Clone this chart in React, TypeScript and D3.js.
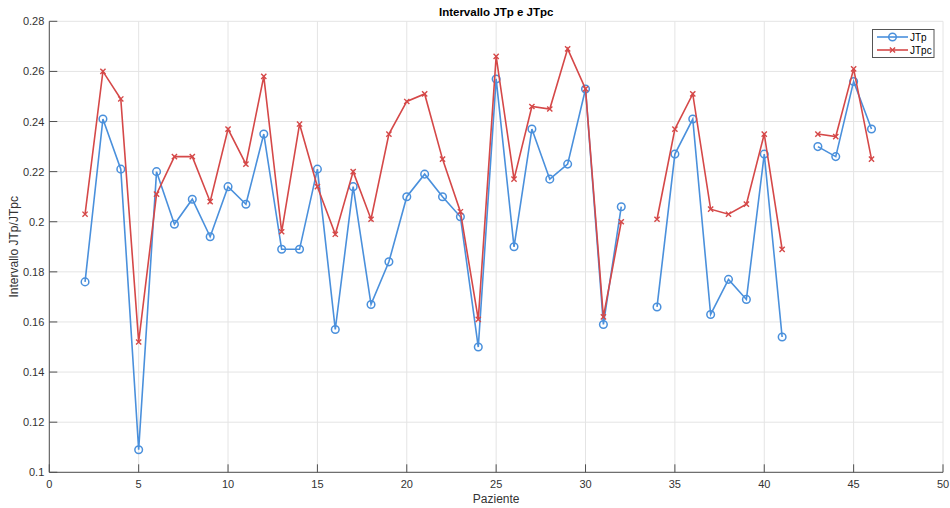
import React from "react";
import * as d3 from "d3";

const patients: number[] = [2,3,4,5,6,7,8,9,10,11,12,13,14,15,16,17,18,19,20,21,22,23,24,25,26,27,28,29,30,31,32,33,34,35,36,37,38,39,40,41,42,43,44,45,46];
const jtp: (number | null)[] = [0.176,0.241,0.221,0.109,0.220,0.199,0.209,0.194,0.214,0.207,0.235,0.189,0.189,0.221,0.157,0.214,0.167,0.184,0.210,0.219,0.210,0.202,0.150,0.257,0.190,0.237,0.217,0.223,0.253,0.159,0.206,null,0.166,0.227,0.241,0.163,0.177,0.169,0.227,0.154,null,0.230,0.226,0.256,0.237];
const jtpc: (number | null)[] = [0.203,0.260,0.249,0.152,0.211,0.226,0.226,0.208,0.237,0.223,0.258,0.196,0.239,0.214,0.195,0.220,0.201,0.235,0.248,0.251,0.225,0.204,0.161,0.266,0.217,0.246,0.245,0.269,0.253,0.162,0.200,null,0.201,0.237,0.251,0.205,0.203,0.207,0.235,0.189,null,0.235,0.234,0.261,0.225];
const xTicks: number[] = [0,5,10,15,20,25,30,35,40,45,50];
const yTicks: number[] = [0.1,0.12,0.14,0.16,0.18,0.2,0.22,0.24,0.26,0.28];
const seriesNames: string[] = ["JTp", "JTpc"];

const W = 950, H = 508;
const L = 49.3, R = 943, T = 21.3, B = 472.3;
const BLUE = "#4a90dc";
const RED = "#d54848";
const AX = "#505050";
const FONT = "'Liberation Sans', Arial, sans-serif";

export default function App() {
  const x = d3.scaleLinear().domain([0, 50]).range([L, R]);
  const y = d3.scaleLinear().domain([0.1, 0.28]).range([B, T]);
  const line = d3.line<[number, number | null]>()
    .defined(d => d[1] !== null)
    .x(d => x(d[0]))
    .y(d => y(d[1] as number));
  const p1 = patients.map((p, i) => [p, jtp[i]] as [number, number | null]);
  const p2 = patients.map((p, i) => [p, jtpc[i]] as [number, number | null]);
  const cross = (cx: number, cy: number, s: number, c: string, k: string) => (
    <path key={k} d={`M${cx - s},${cy - s}L${cx + s},${cy + s}M${cx - s},${cy + s}L${cx + s},${cy - s}`} stroke={c} strokeWidth={1.4} fill="none" />
  );
  return (
    <svg width={W} height={H} style={{ position: "absolute", left: 0, top: 0, background: "#fff" }} fontFamily={FONT}>
      <rect x={0} y={0} width={W} height={H} fill="#fff" />
      {xTicks.map(t => (
        <line key={"gx" + t} x1={x(t)} x2={x(t)} y1={T} y2={B} stroke="#e4e4e4" strokeWidth={1} />
      ))}
      {yTicks.map(t => (
        <line key={"gy" + t} x1={L} x2={R} y1={y(t)} y2={y(t)} stroke="#e4e4e4" strokeWidth={1} />
      ))}
      <line x1={L} x2={R} y1={B} y2={B} stroke={AX} strokeWidth={1} />
      <line x1={L} x2={L} y1={T} y2={B} stroke={AX} strokeWidth={1} />
      {xTicks.map(t => (
        <g key={"xt" + t}>
          <line x1={x(t)} x2={x(t)} y1={B} y2={B - 8} stroke={AX} strokeWidth={1} />
          <text x={x(t)} y={B + 16} textAnchor="middle" fontSize={11} fill="#333">{t}</text>
        </g>
      ))}
      {yTicks.map(t => (
        <g key={"yt" + t}>
          <line x1={L} x2={L + 8} y1={y(t)} y2={y(t)} stroke={AX} strokeWidth={1} />
          <text x={L - 5} y={y(t) + 4} textAnchor="end" fontSize={11} fill="#333">{d3.format("~g")(t)}</text>
        </g>
      ))}
      <text x={(L + R) / 2} y={16} textAnchor="middle" fontSize={11.5} fontWeight="bold" fill="#000">Intervallo JTp e JTpc</text>
      <text x={(L + R) / 2} y={503} textAnchor="middle" fontSize={12} fill="#333">Paziente</text>
      <text transform={`translate(18,${(T + B) / 2}) rotate(-90)`} textAnchor="middle" fontSize={12} fill="#333">Intervallo JTp/JTpc</text>
      <path d={line(p1) || ""} fill="none" stroke={BLUE} strokeWidth={1.6} />
      {p1.filter(d => d[1] !== null).map((d, i) => (
        <circle key={"c" + i} cx={x(d[0])} cy={y(d[1] as number)} r={3.8} fill="none" stroke={BLUE} strokeWidth={1.5} />
      ))}
      <path d={line(p2) || ""} fill="none" stroke={RED} strokeWidth={1.6} />
      {p2.filter(d => d[1] !== null).map((d, i) => cross(x(d[0]), y(d[1] as number), 2.6, RED, "x" + i))}
      <g>
        <rect x={872.5} y={29.5} width={61.5} height={28} fill="#fff" stroke="#555" strokeWidth={1} />
        <line x1={877} x2={908} y1={37} y2={37} stroke={BLUE} strokeWidth={1.6} />
        <circle cx={892.5} cy={37} r={3.8} fill="none" stroke={BLUE} strokeWidth={1.5} />
        <text x={910} y={40.5} fontSize={10} fill="#000">{seriesNames[0]}</text>
        <line x1={877} x2={908} y1={50} y2={50} stroke={RED} strokeWidth={1.6} />
        {cross(892.5, 50, 2.6, RED, "lx")}
        <text x={910} y={53.5} fontSize={10} fill="#000">{seriesNames[1]}</text>
      </g>
    </svg>
  );
}
